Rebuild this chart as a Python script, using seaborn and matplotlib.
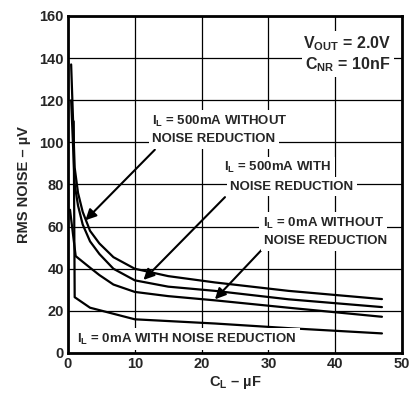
import numpy as np
import pandas as pd
import seaborn as sns
import matplotlib.pyplot as plt

# C_L (uF) and RMS noise (uV)
x_500_wo = [0.47, 1, 1.5, 2.2, 3.3, 4.7, 6.8, 10, 15, 22, 33, 47]
y_500_wo = [137, 88, 76, 67, 58, 52, 45.5, 40, 36.5, 33.5, 29.5, 25.6]
x_500_w = [0.47, 1, 1.5, 2.2, 3.3, 4.7, 6.8, 10, 15, 22, 33, 47]
y_500_w = [120, 80, 70, 61, 53, 47, 40, 34.5, 31.5, 29.5, 25.5, 21.8]
x_0_wo = [0.3, 1.15, 3.3, 4.7, 6.8, 10, 15, 22, 33, 47]
y_0_wo = [68, 46, 40.5, 37, 32.5, 29, 27, 25, 21.5, 17.2]
x_0_w = [0.85, 1, 3.3, 10, 22, 33, 47]
y_0_w = [110, 26.5, 21.5, 16, 14, 11.8, 9.3]

x_ticks = [0, 10, 20, 30, 40, 50]
y_ticks = [0, 20, 40, 60, 80, 100, 120, 140, 160]

sns.set_style('white')
plt.rcParams['font.family'] = ['Liberation Sans', 'DejaVu Sans']
plt.rcParams['font.weight'] = 'bold'
plt.rcParams['mathtext.fontset'] = 'custom'
plt.rcParams['mathtext.rm'] = 'Liberation Sans:bold'
plt.rcParams['mathtext.it'] = 'Liberation Sans:bold'
plt.rcParams['mathtext.bf'] = 'Liberation Sans:bold'

fig = plt.figure(figsize=(4.11, 4.0), dpi=100)
ax = fig.add_axes([68 / 411, 1 - 353 / 400, 334 / 411, 337 / 400])

for xs, ys in [(x_500_wo, y_500_wo), (x_500_w, y_500_w), (x_0_wo, y_0_wo), (x_0_w, y_0_w)]:
    sns.lineplot(x=xs, y=ys, color='black', lw=1.6, ax=ax, zorder=3)

ax.set_xlim(0, 50)
ax.set_ylim(0, 160)
ax.set_xticks(x_ticks)
ax.set_yticks(y_ticks)
ax.grid(True, color='black', lw=0.9)
ax.set_axisbelow(True)
for s in ax.spines.values():
    s.set_color('black')
    s.set_linewidth(2)
ax.tick_params(direction='in', length=4, width=1, labelsize=10.5, pad=3)
for t in ax.get_xticklabels() + ax.get_yticklabels():
    t.set_fontweight('bold')
ax.set_xlabel('C$_\\mathrm{L}$ – µF', fontsize=10.5, fontweight='bold', labelpad=2)
ax.set_ylabel('RMS NOISE – µV', fontsize=10.5, fontweight='bold', labelpad=6)

box = dict(facecolor='white', edgecolor='none', pad=2.5)
tk = dict(fontsize=9.5, fontweight='bold', zorder=5, bbox=box, va='center')

ax.text(48.3, 147, 'V$_\\mathrm{OUT}$ = 2.0V', ha='right', fontsize=11.5, fontweight='bold',
        zorder=5, bbox=box, va='center')
ax.text(48.3, 137, 'C$_\\mathrm{NR}$ = 10nF', ha='right', fontsize=11.5, fontweight='bold',
        zorder=5, bbox=box, va='center')

ax.text(12.6, 110, 'I$_\\mathrm{L}$ = 500mA WITHOUT', ha='left', **tk)
ax.text(12.6, 101.5, 'NOISE REDUCTION', ha='left', **tk)
ax.text(31.4, 88, 'I$_\\mathrm{L}$ = 500mA WITH', ha='center', **tk)
ax.text(33.5, 79, 'NOISE REDUCTION', ha='center', **tk)
ax.text(38.2, 61.5, 'I$_\\mathrm{L}$ = 0mA WITHOUT', ha='center', **tk)
ax.text(38.6, 53, 'NOISE REDUCTION', ha='center', **tk)
ax.text(1.3, 6.5, 'I$_\\mathrm{L}$ = 0mA WITH NOISE REDUCTION', ha='left', **tk)

ap = dict(arrowstyle='-|>', color='black', lw=1.5, mutation_scale=16, shrinkA=0, shrinkB=0)
ax.annotate('', xy=(2.6, 63), xytext=(13.0, 96.5), arrowprops=ap, zorder=4)
ax.annotate('', xy=(11.3, 34.7), xytext=(23.5, 74), arrowprops=ap, zorder=4)
ax.annotate('', xy=(22, 25.5), xytext=(29, 49), arrowprops=ap, zorder=4)

fig.savefig('out.png', dpi=100)
